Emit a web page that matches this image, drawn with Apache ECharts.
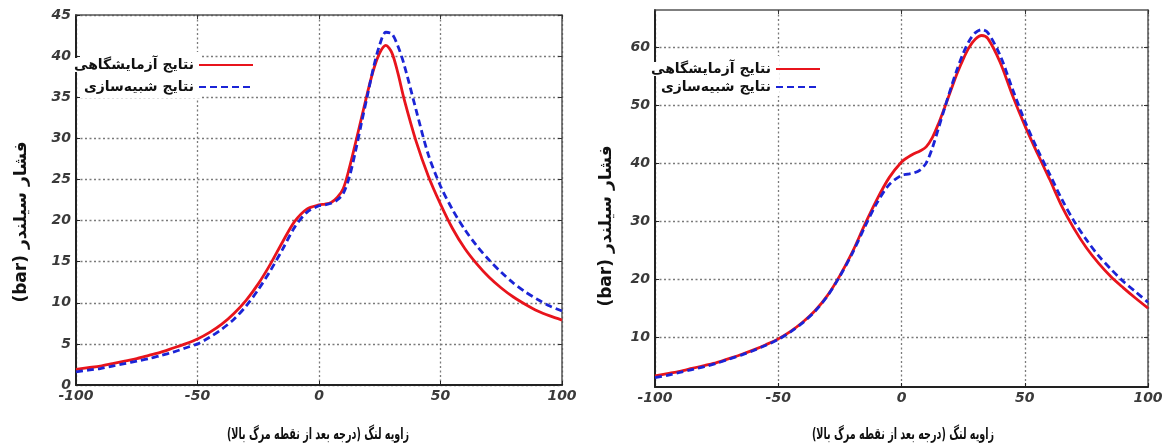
<!DOCTYPE html>
<html>
<head>
<meta charset="utf-8">
<script src="https://cdn.jsdelivr.net/npm/echarts@6/dist/echarts.min.js"></script>
<style>
  html, body { margin: 0; padding: 0; background: #fff; }
  #chart { width: 1171px; height: 448px; }
</style>
</head>
<body>
<div id="chart"></div>
<script>
// Crank angle (deg after TDC) and cylinder pressure (bar)
const leftAngles = [-100,-95,-90,-85,-80,-75,-70,-65,-60,-55,-50,-45,-40,-35,-30,-25,-20,-15,-10,-5,
  0,2.5,5,7.5,10,12.5,15,17.5,20,22.5,25,27.5,30,32.5,35,
  40,45,50,55,60,65,70,75,80,85,90,95,100];
const leftExperimental = [1.9,2.1,2.3,2.6,2.9,3.2,3.6,4.0,4.5,5.0,5.6,6.4,7.4,8.7,10.3,12.3,14.7,17.4,19.9,21.4,
  21.9,22.0,22.2,22.8,23.9,26.4,29.4,32.5,35.6,38.4,40.4,41.3,40.4,37.9,34.8,
  29.6,25.4,22.0,19.0,16.6,14.7,13.1,11.8,10.7,9.8,9.0,8.4,7.9];
const leftSimulated = [1.6,1.8,2.0,2.3,2.6,2.9,3.2,3.6,4.0,4.5,5.0,5.8,6.8,8.0,9.6,11.6,13.9,16.5,19.2,21.0,
  21.8,21.9,22.1,22.5,23.3,25.3,28.4,31.9,35.3,38.7,41.4,42.9,42.7,41.2,39.0,
  33.4,28.0,24.2,21.3,18.9,16.9,15.2,13.7,12.4,11.3,10.4,9.6,9.0];

const rightAngles = leftAngles.slice();
const rightExperimental = [3.3,3.7,4.1,4.6,5.1,5.6,6.3,7.0,7.8,8.7,9.7,11.0,12.6,14.6,17.2,20.6,24.6,29.3,33.7,37.5,
  40.2,41.0,41.6,42.1,42.8,44.4,46.8,49.6,52.5,55.4,57.9,60.0,61.4,62.0,61.5,
  57.4,51.7,46.5,41.8,37.3,32.6,28.7,25.4,22.7,20.4,18.5,16.7,15.0];
const rightSimulated = [3.0,3.4,3.9,4.4,4.9,5.5,6.2,6.9,7.7,8.6,9.6,10.9,12.5,14.5,17.1,20.5,24.4,28.9,33.1,36.3,
  37.9,38.1,38.3,38.8,40.0,42.6,46.0,49.5,52.9,56.1,58.9,61.1,62.5,63.0,62.5,
  58.6,52.8,47.3,42.5,38.2,33.8,30.0,26.8,24.0,21.7,19.6,17.8,16.0];

const xTicks = [-100, -50, 0, 50, 100];
const leftYTicks = [0, 5, 10, 15, 20, 25, 30, 35, 40, 45];
const rightYTicks = [10, 20, 30, 40, 50, 60];

const rtl = s => '\u202B' + s + '\u202C';
const nameExp = rtl('نتایج آزمایشگاهی');
const nameSim = rtl('نتایج شبیه‌سازی');
const xTitle = rtl('زاویه لنگ (درجه بعد از نقطه مرگ بالا)');
const yTitle = rtl('فشار سیلندر (bar)');

const pairs = (xs, ys) => xs.map((x, i) => [x, ys[i]]);

const RED = '#e8141c';
const BLUE = '#1b24d6';
const tickFont = { fontFamily: 'DejaVu Sans', fontWeight: 'bold', fontStyle: 'italic', fontSize: 14, color: '#3a3a3a' };
const gridLine = { show: true, lineStyle: { color: '#7a7a7a', width: 1.3, type: [2, 2.5] } };
const legendText = { fontFamily: 'DejaVu Sans', fontWeight: 'bold', fontSize: 14, color: '#111', backgroundColor: '#fff' };

function bottomX(gridIndex) {
  return {
    type: 'value', gridIndex, min: -100, max: 100, interval: 50,
    axisLine: { show: true, onZero: false, lineStyle: { color: '#222', width: 2 } },
    axisTick: { show: true, inside: true, length: 4, lineStyle: { color: '#222' } },
    axisLabel: Object.assign({ margin: 4 }, tickFont),
    splitLine: gridLine
  };
}
function topX(gridIndex) {
  return {
    type: 'value', gridIndex, position: 'top', min: -100, max: 100, interval: 50,
    axisLine: { show: true, onZero: false, lineStyle: { color: '#555', width: 1.5 } },
    axisTick: { show: true, inside: true, length: 4, lineStyle: { color: '#333' } },
    axisLabel: { show: false }, splitLine: { show: false }
  };
}
function lineSeries(name, xIdx, yIdx, xs, ys, color, dashed) {
  return {
    name, type: 'line', xAxisIndex: xIdx, yAxisIndex: yIdx, data: pairs(xs, ys),
    symbol: 'none', smooth: 0.3,
    lineStyle: { color, width: 2.8, type: dashed ? [7, 4] : 'solid' },
    itemStyle: { color }
  };
}

const titleFont = 'bold 16px "DejaVu Sans"';
const yTitleFont = 'bold 17px "DejaVu Sans"';

const option = {
  backgroundColor: '#fff',
  animation: false,
  grid: [
    { left: 76, right: 609, top: 15, bottom: 63 },
    { left: 655, right: 23, top: 10, bottom: 61 }
  ],
  xAxis: [bottomX(0), topX(0), bottomX(1), topX(1)],
  yAxis: [
    {
      type: 'value', gridIndex: 0, min: 0, max: 45, interval: 5,
      axisLine: { show: true, onZero: false, lineStyle: { color: '#222', width: 2 } },
      axisTick: { show: true, inside: true, length: 4, lineStyle: { color: '#222' } },
      axisLabel: Object.assign({ margin: 5 }, tickFont),
      splitLine: gridLine
    },
    {
      type: 'value', gridIndex: 0, position: 'right', min: 0, max: 45, interval: 5,
      axisLine: { show: true, onZero: false, lineStyle: { color: '#555', width: 1.5 } },
      axisTick: { show: true, inside: true, length: 4, lineStyle: { color: '#333' } },
      axisLabel: { show: false }, splitLine: { show: false }
    },
    {
      type: 'value', gridIndex: 1, min: 1.4, max: 66.4,
      axisLine: { show: true, onZero: false, lineStyle: { color: '#222', width: 2 } },
      axisTick: { show: true, inside: true, length: 4, customValues: rightYTicks, lineStyle: { color: '#222' } },
      axisLabel: Object.assign({ margin: 5, customValues: rightYTicks }, tickFont),
      splitLine: gridLine
    },
    {
      type: 'value', gridIndex: 1, position: 'right', min: 1.4, max: 66.4,
      axisLine: { show: true, onZero: false, lineStyle: { color: '#555', width: 1.5 } },
      axisTick: { show: true, inside: true, length: 4, customValues: rightYTicks, lineStyle: { color: '#333' } },
      axisLabel: { show: false }, splitLine: { show: false }
    }
  ],
  legend: [
    {
      data: [nameExp, nameSim], orient: 'vertical', align: 'right',
      right: 912, top: 53, itemWidth: 54, itemHeight: 14, itemGap: 8,
      itemStyle: { opacity: 0 },
      textStyle: legendText, selectedMode: false
    },
    {
      data: [nameExp, nameSim], orient: 'vertical', align: 'right',
      right: 345, top: 57, itemWidth: 44, itemHeight: 14, itemGap: 4,
      itemStyle: { opacity: 0 },
      textStyle: legendText, selectedMode: false
    }
  ],
  graphic: [
    { type: 'rect', z: 3, shape: { x: 80, y: 52, width: 121, height: 46 }, style: { fill: '#fff' } },
    { type: 'rect', z: 3, shape: { x: 658, y: 56, width: 121, height: 40 }, style: { fill: '#fff' } },
    { type: 'text', x: 318, y: 435, scaleX: 0.6, style: { text: xTitle, textAlign: 'center', textVerticalAlign: 'middle', font: titleFont, fill: '#111' } },
    { type: 'text', x: 903, y: 435, scaleX: 0.6, style: { text: xTitle, textAlign: 'center', textVerticalAlign: 'middle', font: titleFont, fill: '#111' } },
    { type: 'text', x: 22, y: 222, rotation: Math.PI / 2, style: { text: yTitle, textAlign: 'center', textVerticalAlign: 'middle', font: yTitleFont, fill: '#111' } },
    { type: 'text', x: 607, y: 226, rotation: Math.PI / 2, style: { text: yTitle, textAlign: 'center', textVerticalAlign: 'middle', font: yTitleFont, fill: '#111' } }
  ],
  series: [
    lineSeries(nameExp, 0, 0, leftAngles, leftExperimental, RED, false),
    lineSeries(nameSim, 0, 0, leftAngles, leftSimulated, BLUE, true),
    lineSeries(nameExp, 2, 2, rightAngles, rightExperimental, RED, false),
    lineSeries(nameSim, 2, 2, rightAngles, rightSimulated, BLUE, true)
  ]
};

const chart = echarts.init(document.getElementById('chart'), null, { renderer: 'canvas' });
chart.setOption(option);
</script>
</body>
</html>
